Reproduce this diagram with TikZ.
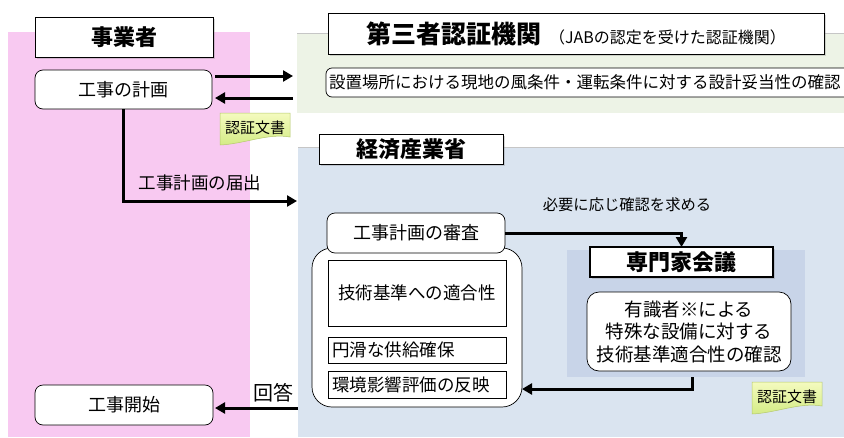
\documentclass[tikz,border=0pt]{standalone}
\usepackage{fontspec}
\setmainfont{Noto Sans CJK JP}
\usetikzlibrary{arrows.meta,shadows,calc}
\pgfdeclarelayer{bg}
\pgfdeclarelayer{mid}
\pgfsetlayers{bg,mid,main}
\definecolor{pinkc}{HTML}{F8C9F1}
\definecolor{greenc}{HTML}{EDF3E6}
\definecolor{bluec}{HTML}{DAE4F0}
\definecolor{grpc}{HTML}{C8D4E8}
\definecolor{notetop}{HTML}{F4FBBE}
\definecolor{notebot}{HTML}{D4EB86}
\definecolor{noteline}{HTML}{B5C96E}
\begin{document}
\begin{tikzpicture}[x=1pt,y=-1pt,
  every node/.style={inner sep=0pt, outer sep=0pt},
  titlebox/.style={draw=black, line width=0.9pt, fill=white,
    font=\fontsize{22}{24}\selectfont\bfseries,
    drop shadow={opacity=0.3, shadow xshift=2pt, shadow yshift=-2pt}},
  rbox/.style={draw=black, line width=0.7pt, fill=white, rounded corners=8pt,
    font=\fontsize{18}{22}\selectfont},
  ibox/.style={draw=black, line width=0.6pt, fill=white, font=\fontsize{17.5}{20}\selectfont},
  arr/.style={line width=3pt, -{Triangle[length=10pt,width=11pt]}},
  lbl/.style={font=\fontsize{17.5}{20}\selectfont},
  notefill/.style={top color=notetop, bottom color=notebot, draw=noteline, line width=0.5pt},
  notetext/.style={font=\fontsize{15}{17}\selectfont, minimum width=70pt, minimum height=30pt}
]
\useasboundingbox (0,0) rectangle (844,437);

% background regions
\begin{pgfonlayer}{bg}
  \fill[white] (0,0) rectangle (844,437);
  \node[fill=pinkc, minimum width=242pt, minimum height=405pt] (jbg) at (129,234.5) {};
  \node[fill=greenc, minimum width=547pt, minimum height=80pt] (gbg) at (570.5,73) {};
  \node[fill=bluec, minimum width=546pt, minimum height=290pt] (bbg) at (571,292) {};
  \node[fill=grpc, minimum width=238pt, minimum height=127pt] (grp) at (686,313.5) {};
  \draw[gray!45, line width=0.8pt] (gbg.north west) -- (gbg.north east);
  \draw[gray!45, line width=0.8pt] (bbg.north west) -- (bbg.north east);
\end{pgfonlayer}

% business operator column
\node[titlebox, minimum width=178pt, minimum height=40pt] (jig) at (124,37) {事業者};
\node[rbox, minimum width=177pt, minimum height=39pt] (kei) at (123.5,89.5) {工事の計画};
\node[rbox, minimum width=178pt, minimum height=40pt] (kai) at (124,405) {工事開始};

% third-party certification body
\node[titlebox, minimum width=496pt, minimum height=41pt] (dai) at (576,33.5)
  {\fontsize{25}{27}\selectfont 第三者認証機関\hspace{8pt}{\mdseries\fontsize{16}{18}\selectfont （JABの認定を受けた認証機関）}};
\node[rbox, rounded corners=6pt, minimum height=29pt, text width=550pt, align=left,
  inner xsep=3pt, anchor=west, font=\fontsize{16.5}{18}\selectfont] (kak) at (326,82.5)
  {設置場所における現地の風条件・運転条件に対する設計妥当性の確認};

% METI
\node[titlebox, minimum width=184pt, minimum height=30pt] (kz) at (411,149) {経済産業省};
\node[draw=black, line width=0.7pt, fill=white, rounded corners=20pt,
  minimum width=210pt, minimum height=159pt] (cnt) at (417,327.5) {};
\node[rbox, minimum width=178pt, minimum height=40pt] (sin) at (416,233) {工事計画の審査};
\node[ibox, minimum width=178pt, minimum height=66pt] (tek) at (417,293) {技術基準への適合性};
\node[ibox, minimum height=26pt, text width=170pt, align=left, inner xsep=4pt] (enk) at (417,350) {円滑な供給確保};
\node[ibox, minimum height=27pt, text width=170pt, align=left, inner xsep=4pt] (kan) at (417,384.5) {環境影響評価の反映};

% expert committee
\node[titlebox, line width=1.5pt, minimum width=183pt, minimum height=30pt] (sen) at (681.5,262) {専門家会議};
\node[rbox, rounded corners=12pt, minimum width=204pt, minimum height=79pt, align=center,
  font=\fontsize{18.5}{22.5}\selectfont] (yus) at (689,331.5)
  {有識者※による\\特殊な設備に対する\\技術基準適合性の確認};

% labels
\node[lbl] (ltd) at (200,183) {工事計画の届出};
\node[font=\fontsize{15.3}{18}\selectfont] (lhy) at (627,205) {必要に応じ確認を求める};
\node[font=\fontsize{20}{22}\selectfont] (lka) at (273,393) {回答};

% notes
\node[notetext] (n1) at (255,128) {認証文書};
\node[notetext] (n2) at (787,397) {認証文書};
\begin{pgfonlayer}{mid}
  \foreach \n in {n1,n2}{
    \path[notefill] (\n.north west) -- (\n.north east) -- ([yshift=6pt]\n.south east)
      .. controls ([xshift=-22pt,yshift=10pt]\n.south east) and ([xshift=24pt,yshift=-1pt]\n.south west)
      .. ([yshift=-2pt]\n.south west) -- cycle;
  }
\end{pgfonlayer}

% connectors
\coordinate (tdk) at (297,201);
\coordinate (gout) at ([xshift=6pt]grp.south);
\draw[arr, shorten <=3pt, shorten >=4pt] ([yshift=13.5pt]kei.east) -- ([yshift=13.5pt]kei.east -| gbg.west);
\draw[arr, shorten <=4pt, shorten >=3pt] ([yshift=-8.5pt]kei.east -| gbg.west) -- ([yshift=-8.5pt]kei.east);
\draw[arr] (kei.south) |- (tdk);
\draw[arr] (sin.east) -| (sen.north);
\draw[arr] (gout) |- ([yshift=-61.5pt]cnt.east);
\draw[arr, shorten >=2pt] ([yshift=-3pt]kai.east -| bbg.west) -- ([yshift=-3pt]kai.east);
\end{tikzpicture}
\end{document}
